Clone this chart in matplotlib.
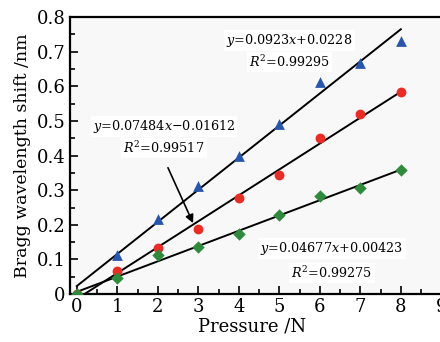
import matplotlib
matplotlib.use("Agg")
import matplotlib.pyplot as plt
from matplotlib.ticker import MultipleLocator
import numpy as np

plt.rcParams['font.family'] = 'DejaVu Serif'
plt.rcParams['mathtext.fontset'] = 'dejavuserif'

# data
pressure = [0, 1, 2, 3, 4, 5, 6, 7, 8]
shift_blue = [0.0, 0.113, 0.218, 0.313, 0.398, 0.492, 0.614, 0.667, 0.732]
shift_red = [0.0, 0.066, 0.133, 0.189, 0.279, 0.345, 0.452, 0.520, 0.583]
shift_green = [0.0, 0.046, 0.114, 0.136, 0.174, 0.228, 0.284, 0.307, 0.358]

label_blue = ("$y$=0.0923$x$+0.0228", "$R^2$=0.99295")
label_red = ("$y$=0.07484$x$\u22120.01612", "$R^2$=0.99517")
label_green = ("$y$=0.04677$x$+0.00423", "$R^2$=0.99275")

fig = plt.figure(figsize=(4.4, 3.42), dpi=100)
ax = fig.add_axes([0.159, 0.140, 0.89, 0.81])
ax.set_facecolor('#f8f8f8')

# linear fit lines over 0..8
xfit = np.array([0, 8])
for ys in (shift_blue, shift_red, shift_green):
    k, b = np.polyfit(pressure, ys, 1)
    ax.plot(xfit, k * xfit + b, color='black', lw=1.4, zorder=2)

ax.scatter(pressure, shift_blue, marker='^', s=60, color='#2656ad', zorder=3, linewidths=0)
ax.scatter(pressure, shift_red, marker='o', s=50, color='#ee2a24', zorder=3, linewidths=0)
ax.scatter(pressure, shift_green, marker='D', s=40, color='#2f8b3c', zorder=3, linewidths=0)

box = dict(facecolor='white', edgecolor='none', pad=1.5)
tfs = 9.2
ax.text(5.25, 0.733, label_blue[0], ha='center', va='center', fontsize=tfs, bbox=box, zorder=1)
ax.text(5.25, 0.670, label_blue[1], ha='center', va='center', fontsize=tfs, bbox=box, zorder=1)
ax.text(2.15, 0.484, label_red[0], ha='center', va='center', fontsize=tfs, bbox=box, zorder=1)
ax.text(2.15, 0.422, label_red[1], ha='center', va='center', fontsize=tfs, bbox=box, zorder=1)
ax.text(6.3, 0.133, label_green[0], ha='center', va='center', fontsize=tfs, bbox=box, zorder=1)
ax.text(6.3, 0.061, label_green[1], ha='center', va='center', fontsize=tfs, bbox=box, zorder=1)

ax.annotate('', xy=(2.87, 0.205), xytext=(2.25, 0.365),
            arrowprops=dict(arrowstyle='-|>', color='black', lw=1.2,
                            mutation_scale=12, shrinkA=0, shrinkB=0))

ax.set_xlim(-0.17, 9.5)
ax.set_ylim(0, 0.8)
ax.xaxis.set_major_locator(MultipleLocator(1))
ax.xaxis.set_minor_locator(MultipleLocator(0.5))
ax.yaxis.set_minor_locator(MultipleLocator(0.05))
ax.set_yticks(np.arange(0, 0.81, 0.1))
ax.set_yticklabels(['0', '0.1', '0.2', '0.3', '0.4', '0.5', '0.6', '0.7', '0.8'])
ax.tick_params(which='both', direction='in', top=False, right=False, labelsize=13, width=1.2)
ax.tick_params(which='major', length=6, pad=3)
ax.tick_params(which='minor', length=3.5)
for sp in ax.spines.values():
    sp.set_linewidth(1.6)

ax.set_xlabel('Pressure /N', fontsize=13, labelpad=0)
ax.set_ylabel('Bragg wavelength shift /nm', fontsize=12.5, labelpad=4)
ax.xaxis.set_label_coords(0.465, -0.085)

fig.savefig('out.png', dpi=100)
